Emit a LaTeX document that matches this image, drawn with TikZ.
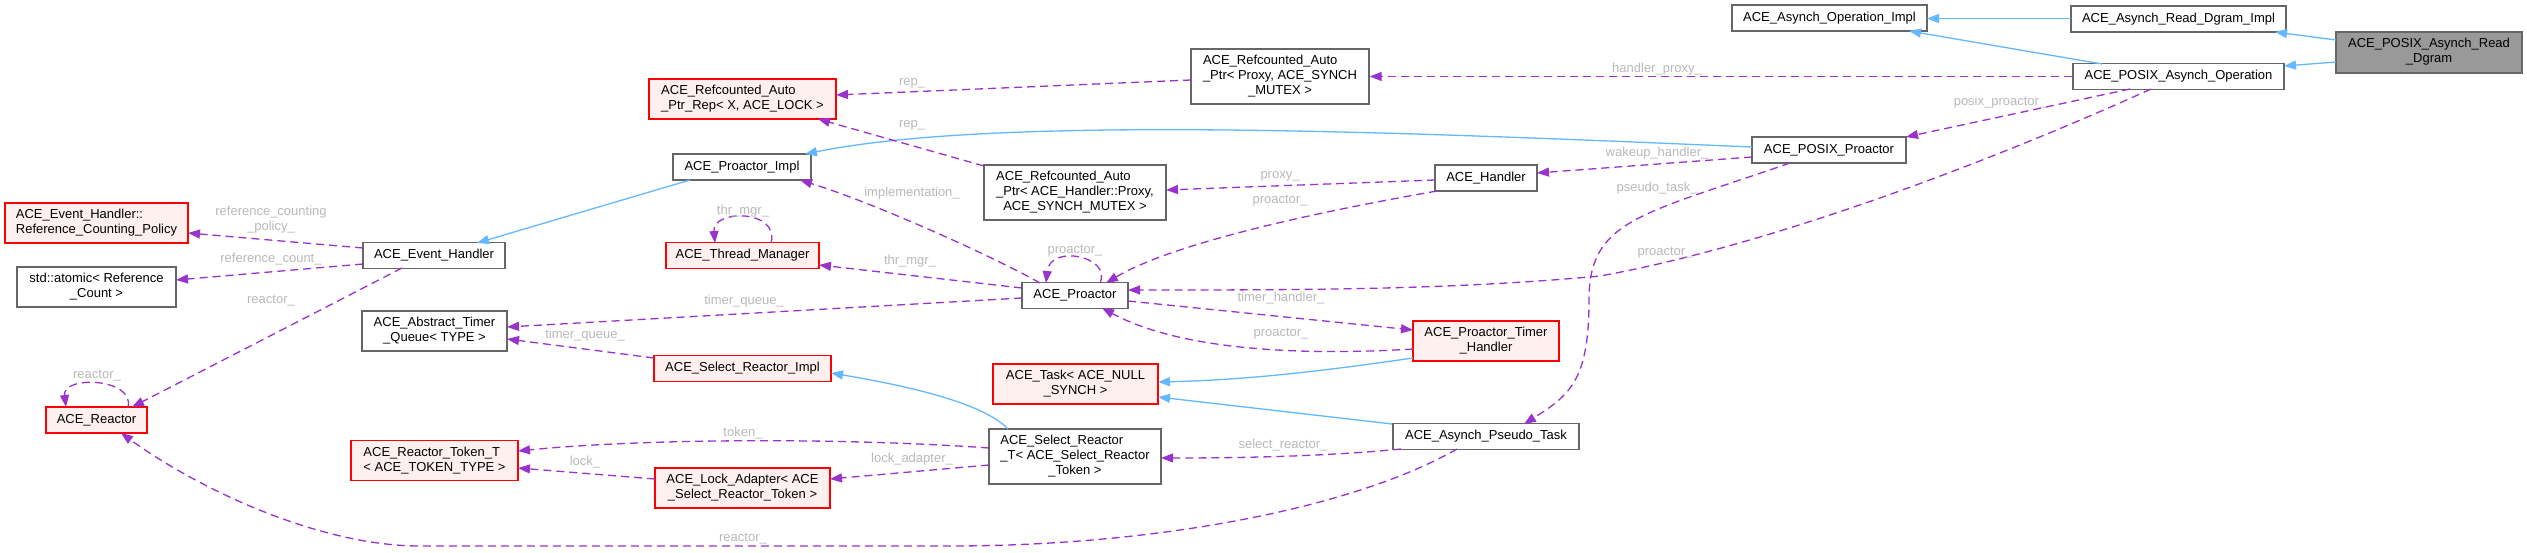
\documentclass[tikz,border=0pt]{standalone}
\usepackage{fontspec}
\setmainfont{Liberation Sans}
\usetikzlibrary{arrows.meta}
\definecolor{bordergray}{RGB}{102,102,102}
\definecolor{redb}{RGB}{255,0,0}
\definecolor{pinkf}{RGB}{255,240,240}
\definecolor{focusgray}{RGB}{153,153,153}
\definecolor{usecol}{RGB}{154,50,205}
\definecolor{inhcol}{RGB}{99,184,255}
\definecolor{lab}{RGB}{185,185,185}
\newcommand\dxfont{\fontsize{13}{15}\selectfont}
\newcommand\twolines[2]{\begin{tabular}{@{}l@{}}#1\\\multicolumn{1}{@{}c@{}}{#2}\end{tabular}}
\newcommand\threelines[3]{\begin{tabular}{@{}l@{}}#1\\#2\\\multicolumn{1}{@{}c@{}}{#3}\end{tabular}}
\tikzset{
  box/.style={draw=bordergray, fill=white, line width=1.3pt, inner sep=0pt, font=\dxfont, text=black},
  redbox/.style={box, draw=redb, fill=pinkf},
  focus/.style={box, fill=focusgray},
  sz/.style 2 args={minimum width=#1pt, minimum height=#2pt},
  lbl/.style={font=\dxfont, text=lab, inner sep=0pt},
  use/.style={draw=usecol, line width=1.3pt, dash pattern=on 8pt off 5pt, -{Triangle[length=12pt,width=9pt]}},
  inh/.style={draw=inhcol, line width=1.3pt, -{Triangle[length=12pt,width=9pt]}}
}
\begin{document}
\begin{tikzpicture}[x=1pt,y=-1pt]
\fill[white] (0,0) rectangle (2527,553);
\useasboundingbox (0,0) rectangle (2527,553);

% nodes
\node[redbox, sz={183}{40}] (rcp) at (96.5,223) {\twolines{ACE\_Event\_Handler::}{Reference\_Counting\_Policy}};
\node[box, sz={159}{40}] (atom) at (96.5,287) {\twolines{std::atomic< Reference}{\_Count >}};
\node[box, sz={142}{26}] (eh) at (434,255.5) {ACE\_Event\_Handler};
\node[box, sz={145}{40}] (atq) at (434.5,331) {\twolines{ACE\_Abstract\_Timer}{\_Queue< TYPE >}};
\node[redbox, sz={101}{26}] (reactor) at (96.5,420) {ACE\_Reactor};
\node[redbox, sz={167}{40}] (rtt) at (434.5,460.5) {\twolines{ACE\_Reactor\_Token\_T}{< ACE\_TOKEN\_TYPE >}};
\node[redbox, sz={175}{40}] (la) at (742.5,488) {\twolines{ACE\_Lock\_Adapter< ACE}{\_Select\_Reactor\_Token >}};
\node[redbox, sz={187}{40}] (rep) at (742.5,99) {\twolines{ACE\_Refcounted\_Auto}{\_Ptr\_Rep< X, ACE\_LOCK >}};
\node[box, sz={138}{26}] (pimpl) at (742,167) {ACE\_Proactor\_Impl};
\node[redbox, sz={153}{26}] (tm) at (742.5,255.5) {ACE\_Thread\_Manager};
\node[redbox, sz={177}{26}] (sri) at (742.5,368.5) {ACE\_Select\_Reactor\_Impl};
\node[box, sz={178}{55}] (apx) at (1280,76.5) {\threelines{ACE\_Refcounted\_Auto}{\_Ptr< Proxy, ACE\_SYNCH}{\_MUTEX >}};
\node[box, sz={182}{55}] (ahp) at (1075,192.5) {\threelines{ACE\_Refcounted\_Auto}{\_Ptr< ACE\_Handler::Proxy,}{ACE\_SYNCH\_MUTEX >}};
\node[box, sz={106}{26}] (proactor) at (1075,295.5) {ACE\_Proactor};
\node[redbox, sz={165}{40}] (task) at (1075.5,384) {\twolines{ACE\_Task< ACE\_NULL}{\_SYNCH >}};
\node[box, sz={172}{55}] (srt) at (1075,456.5) {\threelines{ACE\_Select\_Reactor}{\_T< ACE\_Select\_Reactor}{\_Token >}};
\node[box, sz={102}{26}] (handler) at (1486,178) {ACE\_Handler};
\node[redbox, sz={146}{40}] (pth) at (1486,341) {\twolines{ACE\_Proactor\_Timer}{\_Handler}};
\node[box, sz={186}{26}] (apt) at (1486,436.5) {ACE\_Asynch\_Pseudo\_Task};
\node[box, sz={195}{26}] (aoi) at (1829.5,18) {ACE\_Asynch\_Operation\_Impl};
\node[box, sz={154}{26}] (pp) at (1829,150) {ACE\_POSIX\_Proactor};
\node[box, sz={215}{26}] (rdi) at (2178.5,19) {ACE\_Asynch\_Read\_Dgram\_Impl};
\node[box, sz={211}{26}] (pao) at (2178.5,76.5) {ACE\_POSIX\_Asynch\_Operation};
\node[focus, sz={186}{41}] (prd) at (2429,52.5) {\twolines{ACE\_POSIX\_Asynch\_Read}{\_Dgram}};

% inheritance
\draw[inh] ([shift={(-93,-12.5)}]prd.center) -- ([shift={(96.5,13)}]rdi.center);
\draw[inh] ([shift={(-93,9.5)}]prd.center) -- ([shift={(105.5,-10.5)}]pao.center);
\draw[inh] ([shift={(-107.5,-0.5)}]rdi.center) -- ([shift={(97.5,0.5)}]aoi.center);
\draw[inh] ([shift={(-76.5,-12.5)}]pao.center) -- ([shift={(79.5,13)}]aoi.center);
\draw[inh] ([shift={(-77,-3)}]pp.center) .. controls (1400,132) and (1000,115) .. ([shift={(63,-13)}]pimpl.center);
\draw[inh] ([shift={(-52,13)}]pimpl.center) -- ([shift={(43,-12.5)}]eh.center);
\draw[inh] ([shift={(-73,17)}]pth.center) .. controls (1330,370) and (1250,380) .. ([shift={(82.5,-2)}]task.center);
\draw[inh] ([shift={(-94,-12.5)}]apt.center) -- ([shift={(82.5,13)}]task.center);
\draw[inh] ([shift={(-67,-27.5)}]srt.center) .. controls (985,405) and (920,388) .. ([shift={(88.5,4.5)}]sri.center);

% usage
\draw[use] (pao.west) -- (apx.east);
\node[lbl] (l1) at (1657,69) {handler\_proxy\_};
\draw[use] ([shift={(-89,3.5)}]apx.center) -- ([shift={(93.5,-4)}]rep.center);
\node[lbl] (l2) at (912,83) {rep\_};
\draw[use] ([shift={(-91,-26.5)}]ahp.center) -- ([shift={(75.5,20)}]rep.center);
\node[lbl] (l3) at (912,125) {rep\_};
\draw[use] ([shift={(-48.5,12.5)}]pao.center) -- ([shift={(77,-13)}]pp.center);
\node[lbl] (l4) at (2000,102) {posix\_proactor\_};
\draw[use] ([shift={(-27.5,12.5)}]pao.center) .. controls (2050,135) and (1800,240) .. (1600,276) .. controls (1450,290) and (1300,290) .. ([shift={(53,-5.5)}]proactor.center);
\node[lbl] (l5) at (1665,253) {proactor\_};
\draw[use] ([shift={(-77,7)}]pp.center) -- ([shift={(51,-5)}]handler.center);
\node[lbl] (l6) at (1657,153) {wakeup\_handler\_};
\draw[use] ([shift={(-39,13)}]pp.center) .. controls (1640,215) and (1589,220) .. (1589,300) .. controls (1589,380) and (1570,395) .. ([shift={(38,-12.5)}]apt.center);
\node[lbl] (l7) at (1657,188) {pseudo\_task\_};
\draw[use] ([shift={(-51,2)}]handler.center) -- ([shift={(91,-2.5)}]ahp.center);
\node[lbl] (l8) at (1280,176) {proxy\_};
\draw[use] ([shift={(-49,13)}]handler.center) .. controls (1300,215) and (1170,245) .. ([shift={(31,-12.5)}]proactor.center);
\node[lbl] (l9) at (1280,201) {proactor\_};
\draw[use] ([shift={(25,-12.5)}]proactor.center) .. controls (1112,256) and (1050,244) .. ([shift={(-29,-12.5)}]proactor.center);
\node[lbl] (l10) at (1075,251) {proactor\_};
\draw[use] ([shift={(-35,-12.5)}]proactor.center) .. controls (1000,260) and (880,205) .. ([shift={(58,13)}]pimpl.center);
\node[lbl] (l11) at (912,193) {implementation\_};
\draw[use] ([shift={(-53,-7.5)}]proactor.center) -- ([shift={(76.5,9.5)}]tm.center);
\node[lbl] (l12) at (910,261) {thr\_mgr\_};
\draw[use] ([shift={(28.5,-12.5)}]tm.center) .. controls (780,209) and (712,209) .. ([shift={(-27.5,-12.5)}]tm.center);
\node[lbl] (l13) at (743,211) {thr\_mgr\_};
\draw[use] ([shift={(-53,2.5)}]proactor.center) -- ([shift={(72.5,-4)}]atq.center);
\node[lbl] (l14) at (744,301) {timer\_queue\_};
\draw[use] ([shift={(-88.5,-10.5)}]sri.center) -- ([shift={(72.5,8)}]atq.center);
\node[lbl] (l15) at (585,335) {timer\_queue\_};
\draw[use] ([shift={(53,5.5)}]proactor.center) -- ([shift={(-73,-11)}]pth.center);
\node[lbl] (l16) at (1281,298) {timer\_handler\_};
\draw[use] ([shift={(-73,8)}]pth.center) .. controls (1300,356) and (1180,350) .. ([shift={(27,12.5)}]proactor.center);
\node[lbl] (l17) at (1281,334) {proactor\_};
\draw[use] ([shift={(-71,-7.5)}]eh.center) -- ([shift={(91.5,10)}]rcp.center);
\node[lbl, align=center] (l18) at (271,220) {reference\_counting\\\_policy\_};
\draw[use] ([shift={(-71,8.5)}]eh.center) -- ([shift={(79.5,-7)}]atom.center);
\node[lbl] (l19) at (271,259) {reference\_count\_};
\draw[use] ([shift={(-32,12.5)}]eh.center) -- ([shift={(35.5,-13)}]reactor.center);
\node[lbl] (l20) at (271,301) {reactor\_};
\draw[use] ([shift={(31.5,-13)}]reactor.center) .. controls (135,378) and (62,375) .. ([shift={(-30.5,-13)}]reactor.center);
\node[lbl] (l21) at (97,376) {reactor\_};
\draw[use] ([shift={(-29,12.5)}]apt.center) .. controls (1350,510) and (1150,546) .. (950,546) -- (420,546) .. controls (320,546) and (200,490) .. ([shift={(24.5,13)}]reactor.center);
\node[lbl] (l22) at (743,539) {reactor\_};
\draw[use] ([shift={(-85,12.5)}]apt.center) .. controls (1330,456) and (1250,458) .. ([shift={(86,1.5)}]srt.center);
\node[lbl] (l23) at (1283,445) {select\_reactor\_};
\draw[use] ([shift={(-86,-8.5)}]srt.center) .. controls (850,438) and (650,438) .. ([shift={(83.5,-9.5)}]rtt.center);
\node[lbl] (l24) at (743,433) {token\_};
\draw[use] ([shift={(-86,8.5)}]srt.center) -- ([shift={(87.5,-9)}]la.center);
\node[lbl] (l25) at (912,459) {lock\_adapter\_};
\draw[use] ([shift={(-87.5,-9)}]la.center) -- ([shift={(83.5,7.5)}]rtt.center);
\node[lbl] (l26) at (585,462) {lock\_};
\end{tikzpicture}
\end{document}
